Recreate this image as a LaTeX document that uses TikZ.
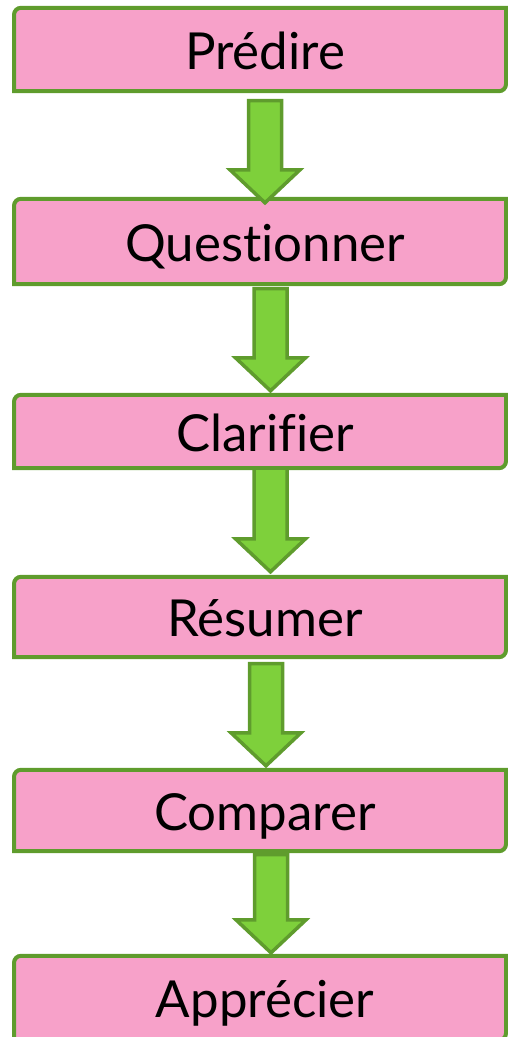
\documentclass[tikz,border=0pt]{standalone}
\usepackage{fontspec}
\setmainfont{Lato}[Ligatures=NoCommon]
\usetikzlibrary{calc,backgrounds}
\definecolor{boxpink}{HTML}{F7A1C9}
\definecolor{boxgreen}{HTML}{5F9C2D}
\definecolor{arrowgreen}{HTML}{7ED03B}
\tikzset{
  stage/.style={inner sep=0pt, text height=39pt, text depth=0pt,
    font=\fontsize{51}{60}\selectfont},
  stagebox/.style={draw=boxgreen, fill=boxpink, line width=4pt},
  blockarrow/.style={draw=boxgreen, fill=arrowgreen, line width=3.5pt, line join=miter,
    to path={let \p1=(\tikztostart), \p2=(\tikztotarget) in
      (\x1-16.5pt,\y1) -- (\x1-16.5pt,\y2+33pt) -- (\x1-35pt,\y2+33pt) -- (\x1,\y2)
      -- (\x1+35pt,\y2+33pt) -- (\x1+16.5pt,\y2+33pt) -- (\x1+16.5pt,\y1) -- cycle}}
}
\begin{document}
\begin{tikzpicture}[x=1pt,y=-1pt]
 \useasboundingbox (0,0) rectangle (508,1037);
 \node[stage, minimum height=83pt] (predire) at (265,49.5) {Prédire};
 \node[stage, minimum height=85pt] (questionner) at (265,241.5) {Questionner};
 \node[stage, minimum height=73pt] (clarifier) at (265,431.5) {Clarifier};
 \node[stage, minimum height=80pt] (resumer) at (265,617) {Résumer};
 \node[stage, minimum height=81pt] (comparer) at (265,810.5) {Comparer};
 \node[stage, minimum height=84pt] (apprecier) at (265,998) {Apprécier};
 \begin{scope}[on background layer]
  \foreach \n in {predire,questionner,clarifier,resumer,comparer,apprecier}
   \draw[stagebox] (14,0 |- \n.south) -- ([yshift=-7pt]14,0 |- \n.north)
     arc[start angle=180, end angle=90, radius=7pt]
     -- (506,0 |- \n.north) -- ([yshift=7pt]506,0 |- \n.south)
     arc[start angle=0, end angle=-90, radius=7pt] -- cycle;
 \end{scope}
 \draw[blockarrow] ([yshift=-9.5pt]predire.south) to ([yshift=-4pt]questionner.north);
 \draw[blockarrow] ([xshift=5.5pt,yshift=-4.5pt]questionner.south) to ([xshift=5.5pt,yshift=4pt]clarifier.north);
 \draw[blockarrow] ([xshift=5.5pt]clarifier.south) to ([xshift=5.5pt,yshift=5pt]resumer.north);
 \draw[blockarrow] ([xshift=1pt,yshift=-6.5pt]resumer.south) to ([xshift=1pt,yshift=4pt]comparer.north);
 \draw[blockarrow] ([xshift=6pt,yshift=-3.5pt]comparer.south) to ([xshift=6pt,yshift=3pt]apprecier.north);
\end{tikzpicture}
\end{document}
